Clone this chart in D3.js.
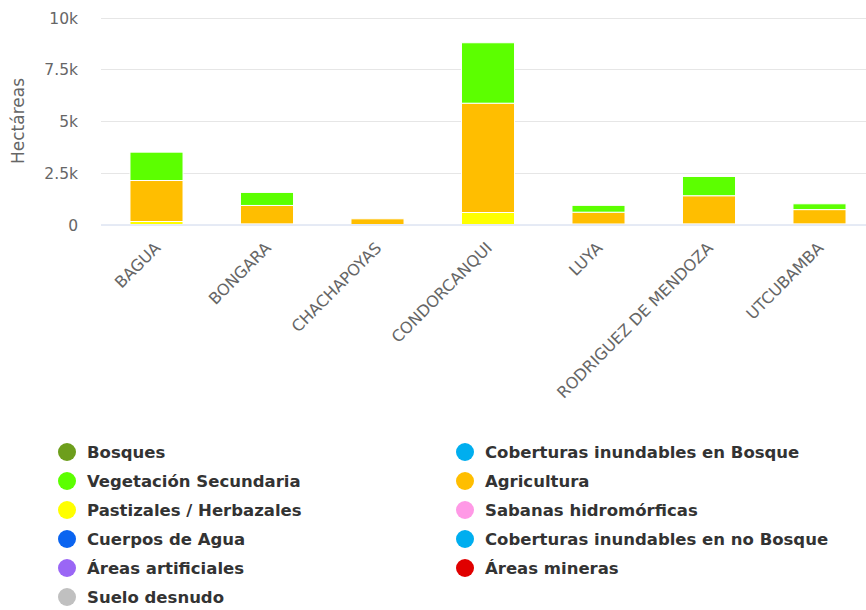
<!DOCTYPE html>
<html>
<head>
<meta charset="utf-8">
<script src="https://cdn.jsdelivr.net/npm/d3@7/dist/d3.min.js"></script>
<style>
  html, body { margin: 0; padding: 0; background: #ffffff; }
  svg { display: block; }
</style>
</head>
<body>
<svg id="chart" width="866" height="610"></svg>
<script>
// Provinces of Amazonas
const categories = ["BAGUA", "BONGARA", "CHACHAPOYAS", "CONDORCANQUI", "LUYA", "RODRIGUEZ DE MENDOZA", "UTCUBAMBA"];

// Land-cover classes, in legend order (row by row)
const seriesNames = [
  "Bosques", "Coberturas inundables en Bosque",
  "Vegetación Secundaria", "Agricultura",
  "Pastizales / Herbazales", "Sabanas hidromórficas",
  "Cuerpos de Agua", "Coberturas inundables en no Bosque",
  "Áreas artificiales", "Áreas mineras",
  "Suelo desnudo"
];
const seriesColors = [
  "#6d9e1c", "#00aeef",
  "#5cff00", "#ffbe00",
  "#ffff00", "#ff99e6",
  "#0a64f0", "#00aeef",
  "#9a66f5", "#e00000",
  "#c0c0c0"
];

// Hectares per province for each class
const bosques          = [0, 0, 0, 0, 0, 0, 0];
const cobInundBosque   = [0, 0, 0, 0, 0, 0, 0];
const vegSecundaria    = [1370, 630, 0, 2920, 330, 930, 280];
const agricultura      = [1980, 890, 275, 5280, 570, 1360, 690];
const pastizales       = [145, 30, 0, 580, 25, 30, 30];
const sabanas          = [0, 0, 0, 0, 0, 0, 0];
const cuerposAgua      = [0, 0, 0, 0, 0, 0, 0];
const cobInundNoBosque = [0, 0, 0, 0, 0, 0, 0];
const areasArtificiales= [0, 0, 0, 0, 0, 0, 0];
const areasMineras     = [0, 0, 0, 0, 0, 0, 0];
const sueloDesnudo     = [0, 0, 0, 0, 0, 0, 0];

const seriesValues = [
  bosques, cobInundBosque, vegSecundaria, agricultura, pastizales, sabanas,
  cuerposAgua, cobInundNoBosque, areasArtificiales, areasMineras, sueloDesnudo
];

const yTicks = [0, 2500, 5000, 7500, 10000];
const yTickLabels = ["0", "2.5k", "5k", "7.5k", "10k"];

const svg = d3.select("#chart");
const font = "'DejaVu Sans', Verdana, sans-serif";

const plotLeft = 101, plotRight = 866;
const y = d3.scaleLinear().domain([0, 10000]).range([224.5, 17.5]);
const x = d3.scaleBand().domain(categories)
  .range([101.25, 874.75]).paddingInner(0.52).paddingOuter(0.26);

// Gridlines
svg.append("g").selectAll("line").data(yTicks.slice(1)).join("line")
  .attr("x1", plotLeft).attr("x2", plotRight)
  .attr("y1", d => Math.round(y(d)) + 0.5).attr("y2", d => Math.round(y(d)) + 0.5)
  .attr("stroke", "#e6e6e6").attr("stroke-width", 1);

// Y axis labels
const yAxis = d3.axisLeft(y).tickValues(yTicks)
  .tickFormat((d, i) => yTickLabels[i]).tickSize(0).tickPadding(0);
const yg = svg.append("g").attr("transform", "translate(78,0)").call(yAxis);
yg.select(".domain").remove();
yg.selectAll("text")
  .attr("font-family", font).attr("font-size", 15.5)
  .attr("fill", "#666666").attr("dy", "0.36em");

// Y axis title
svg.append("text")
  .attr("transform", "translate(24,121) rotate(-90)")
  .attr("text-anchor", "middle")
  .attr("font-family", font).attr("font-size", 17)
  .attr("fill", "#666666").text("Hectáreas");

// Stacked bars: first series sits on top of the stack
const stackKeys = d3.range(seriesNames.length).reverse();
const rows = categories.map((c, ci) => {
  const r = { cat: c };
  seriesValues.forEach((arr, si) => { r[si] = arr[ci]; });
  return r;
});
const stacked = d3.stack().keys(stackKeys)(rows);

svg.append("g").selectAll("g").data(stacked).join("g")
  .attr("fill", d => seriesColors[d.key])
  .selectAll("rect").data(d => d.filter(p => p[1] - p[0] > 0)).join("rect")
  .attr("x", d => x(d.data.cat))
  .attr("width", x.bandwidth())
  .attr("y", d => y(d[1]))
  .attr("height", d => y(d[0]) - y(d[1]))
  .attr("stroke", "#ffffff").attr("stroke-width", 1);

// X axis line
svg.append("line")
  .attr("x1", plotLeft).attr("x2", plotRight)
  .attr("y1", 225).attr("y2", 225)
  .attr("stroke", "#ccd6eb").attr("stroke-width", 1);

// X axis labels, rotated
const xAxis = d3.axisBottom(x).tickSize(0).tickPadding(0);
const xg = svg.append("g").attr("transform", "translate(0,225)").call(xAxis);
xg.select(".domain").remove();
xg.selectAll("text")
  .attr("font-family", font).attr("font-size", 16)
  .attr("fill", "#666666")
  .attr("text-anchor", "end")
  .attr("dy", 0)
  .attr("transform", "translate(5,24) rotate(-45)");

// Legend in two columns, filled row by row
const legend = svg.append("g");
const items = legend.selectAll("g").data(seriesNames).join("g")
  .attr("transform", (d, i) => {
    const col = i % 2, row = Math.floor(i / 2);
    return `translate(${col === 0 ? 67 : 465},${452 + row * 29})`;
  });
items.append("circle").attr("r", 9).attr("fill", (d, i) => seriesColors[i]);
items.append("text")
  .attr("x", 20).attr("dy", "0.36em")
  .attr("font-family", font).attr("font-weight", "bold")
  .attr("font-size", 16.5).attr("fill", "#333333")
  .text(d => d);
</script>
</body>
</html>
